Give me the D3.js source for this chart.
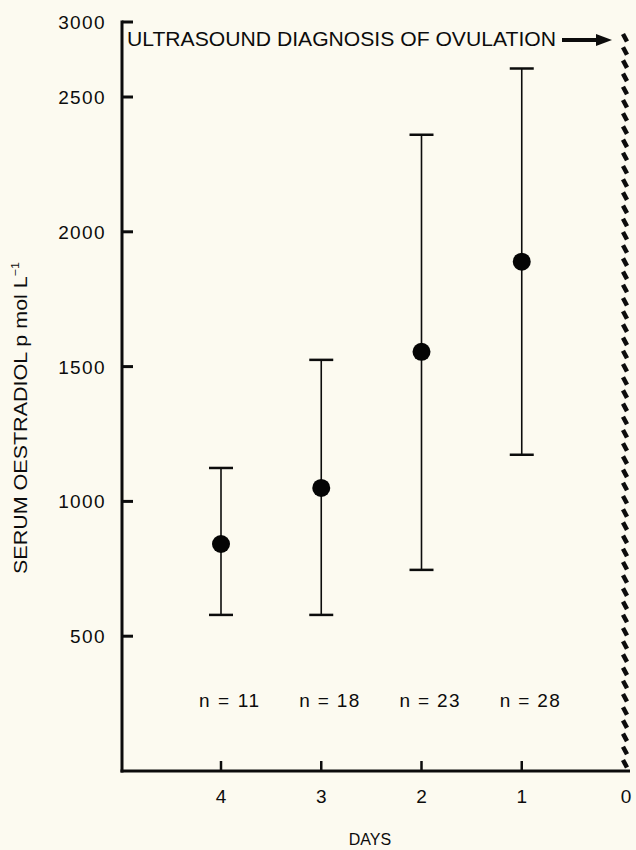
<!DOCTYPE html>
<html>
<head>
<meta charset="utf-8">
<script src="https://cdn.jsdelivr.net/npm/d3@7"></script>
<style>
  html, body { margin: 0; padding: 0; background: #fcfaf0; }
  svg { display: block; font-family: "Liberation Sans", Arial, sans-serif; }
</style>
</head>
<body>
<svg id="chart"></svg>
<script>
const width = 636;
const height = 850;

// data
const days = [4, 3, 2, 1];
const means = [842, 1050, 1555, 1889];
const upper = [1124, 1525, 2360, 2690];
const lower = [579, 579, 746, 1173];
const counts = [11, 18, 23, 28];
const yTicks = [500, 1000, 1500, 2000, 2500, 3000];
const xTicks = [4, 3, 2, 1, 0];

const svg = d3.select('#chart')
    .attr('width', width)
    .attr('height', height)

svg.append('rect')
    .attr('width', width)
    .attr('height', height)
    .attr('fill', '#fcfaf0')

// the printed axis compresses the 2500-3000 step
const y = d3.scaleLinear()
    .domain([0, 2500, 3000])
    .range([771, 97, 22])

const x = d3.scaleLinear()
    .domain([4, 0])
    .range([221, 622])

const axisX = 122;
const ink = '#0c0c0c';

// y axis
const yAxis = svg.append('g')
yAxis.append('line')
    .attr('x1', axisX).attr('x2', axisX)
    .attr('y1', y(3000) - 1.5).attr('y2', y(0) + 1.5)
    .attr('stroke', ink).attr('stroke-width', 3)

yAxis.selectAll('.ytick')
    .data(yTicks)
    .enter()
    .append('line')
    .attr('x1', axisX).attr('x2', axisX + 11)
    .attr('y1', d => y(d)).attr('y2', d => y(d))
    .attr('stroke', ink).attr('stroke-width', 3)

yAxis.selectAll('.ylabel')
    .data(yTicks)
    .enter()
    .append('text')
    .attr('x', 106)
    .attr('y', d => y(d) + 7)
    .attr('text-anchor', 'end')
    .attr('font-size', 19)
    .attr('letter-spacing', 1.4)
    .attr('fill', ink)
    .text(d => d)

// x axis
const xAxis = svg.append('g')
xAxis.append('line')
    .attr('x1', axisX - 1.5).attr('x2', x(0) + 8)
    .attr('y1', y(0)).attr('y2', y(0))
    .attr('stroke', ink).attr('stroke-width', 3)

xAxis.selectAll('.xtick')
    .data(xTicks.slice(0, 4))
    .enter()
    .append('line')
    .attr('x1', d => x(d)).attr('x2', d => x(d))
    .attr('y1', y(0)).attr('y2', y(0) - 10)
    .attr('stroke', ink).attr('stroke-width', 2.5)

xAxis.selectAll('.xlabel')
    .data(xTicks)
    .enter()
    .append('text')
    .attr('x', d => d === 0 ? x(d) + 4 : x(d))
    .attr('y', 803)
    .attr('text-anchor', 'middle')
    .attr('font-size', 19)
    .attr('fill', ink)
    .text(d => d)

svg.append('text')
    .attr('x', 370)
    .attr('y', 845)
    .attr('text-anchor', 'middle')
    .attr('font-size', 16)
    .attr('fill', ink)
    .text('DAYS')

svg.append('text')
    .attr('transform', 'translate(27,418) rotate(-90)')
    .attr('text-anchor', 'middle')
    .attr('font-size', 19)
    .attr('textLength', 312)
    .attr('lengthAdjust', 'spacingAndGlyphs')
    .attr('fill', ink)
    .html('SERUM OESTRADIOL p mol L<tspan dy="-8" font-size="11">−1</tspan>')

// ovulation marker
const ovX = x(0) + 3;
const dashes = d3.range(34, y(0), 13.2);
svg.append('g')
    .selectAll('line')
    .data(dashes)
    .enter()
    .append('line')
    .attr('x1', ovX - 2).attr('x2', ovX + 2)
    .attr('y1', d => d).attr('y2', d => d + 7.5)
    .attr('stroke', ink).attr('stroke-width', 4.5)

svg.append('text')
    .attr('x', 127)
    .attr('y', 46)
    .attr('font-size', 20)
    .attr('textLength', 429)
    .attr('lengthAdjust', 'spacingAndGlyphs')
    .attr('fill', ink)
    .text('ULTRASOUND DIAGNOSIS OF OVULATION')

svg.append('line')
    .attr('x1', 562).attr('x2', 598)
    .attr('y1', 40).attr('y2', 40)
    .attr('stroke', ink).attr('stroke-width', 4)
svg.append('path')
    .attr('d', 'M596,34 L612,40 L596,46 Z')
    .attr('fill', ink)

// error bars and means
const bars = svg.append('g')
    .selectAll('g')
    .data(days)
    .enter()
    .append('g')

bars.append('line')
    .attr('x1', d => x(d)).attr('x2', d => x(d))
    .attr('y1', (d, i) => y(upper[i])).attr('y2', (d, i) => y(lower[i]))
    .attr('stroke', ink).attr('stroke-width', 1.6)

bars.append('line')
    .attr('x1', d => x(d) - 12).attr('x2', d => x(d) + 12)
    .attr('y1', (d, i) => y(upper[i])).attr('y2', (d, i) => y(upper[i]))
    .attr('stroke', ink).attr('stroke-width', 2.5)

bars.append('line')
    .attr('x1', d => x(d) - 12).attr('x2', d => x(d) + 12)
    .attr('y1', (d, i) => y(lower[i])).attr('y2', (d, i) => y(lower[i]))
    .attr('stroke', ink).attr('stroke-width', 2.5)

bars.append('circle')
    .attr('cx', d => x(d))
    .attr('cy', (d, i) => y(means[i]))
    .attr('r', 9)
    .attr('fill', '#050505')

bars.append('text')
    .attr('x', d => x(d) + 8)
    .attr('y', 707)
    .attr('text-anchor', 'middle')
    .attr('font-size', 19)
    .attr('fill', ink)
    .attr('textLength', 60)
    .attr('lengthAdjust', 'spacing')
    .text((d, i) => 'n = ' + counts[i])
</script>
</body>
</html>
